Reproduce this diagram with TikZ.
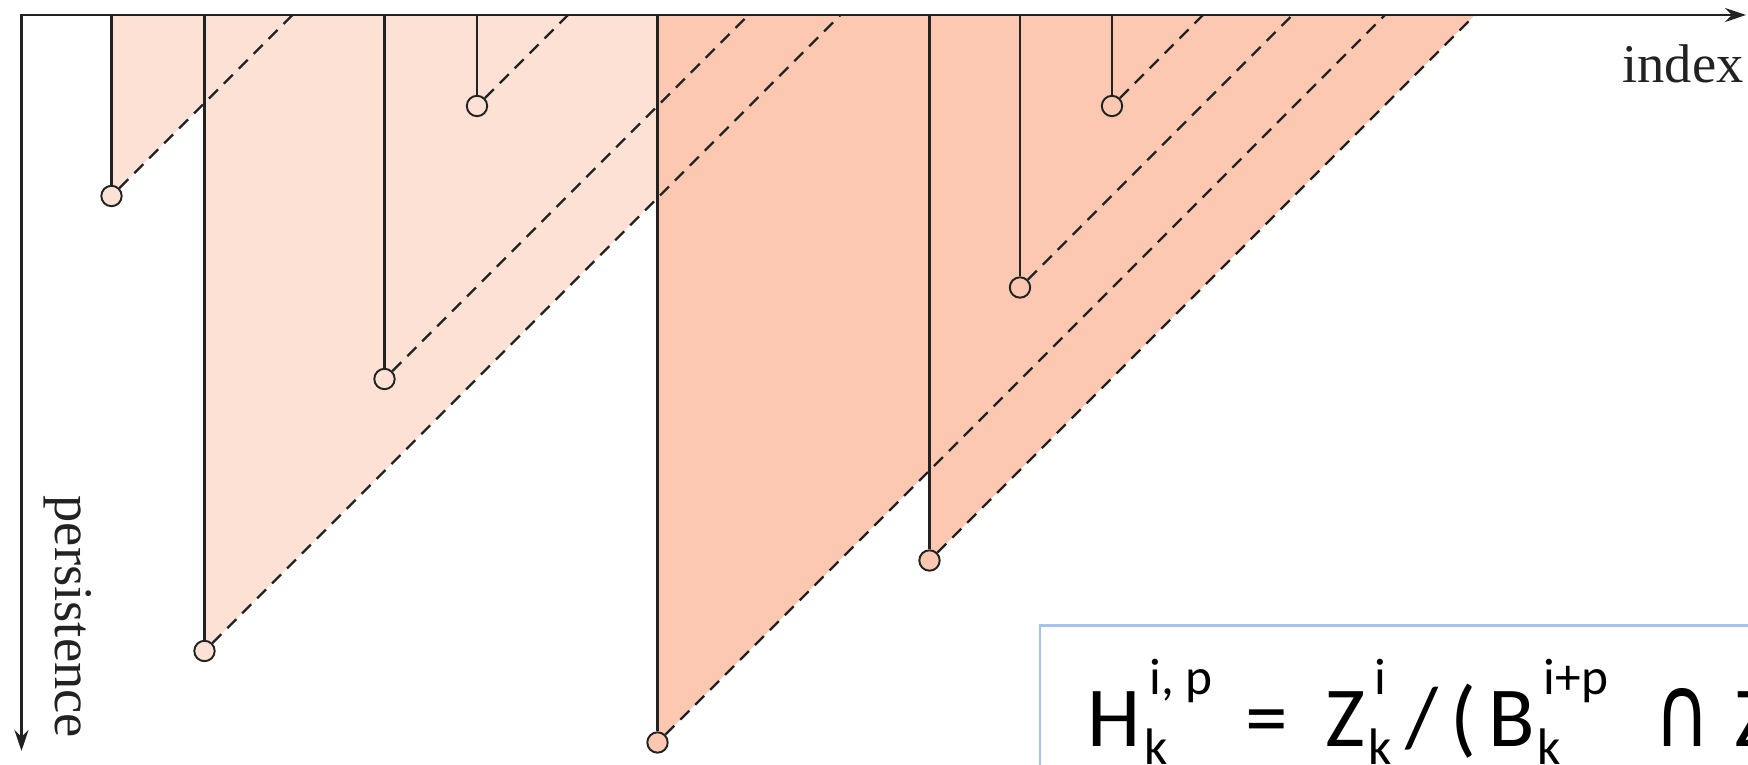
\documentclass[tikz,border=0pt]{standalone}
\usepackage{graphicx}
\usepackage{fontspec}
\setmainfont{Liberation Serif}
\newfontfamily\calib{Carlito}
\newfontfamily\djv{DejaVu Sans}
\usetikzlibrary{arrows.meta}
\definecolor{lightfill}{HTML}{FDE1D5}
\definecolor{darkfill}{HTML}{FCC8B1}
\definecolor{boxblue}{HTML}{A3C3EC}
\definecolor{ink}{HTML}{222222}
\begin{document}
\begin{tikzpicture}[x=0.01cm,y=-0.01cm,
  axisline/.style={line width=0.8pt, draw=ink},
  stemline/.style={line width=0.6pt, draw=ink},
  dashline/.style={line width=0.65pt, draw=ink, dash pattern=on 3.6pt off 2.4pt},
  lightdot/.style={circle, draw=ink, fill=lightfill, line width=0.55pt, minimum size=5.8pt, inner sep=0pt},
  darkdot/.style={circle, draw=ink, fill=darkfill, line width=0.55pt, minimum size=5.8pt, inner sep=0pt},
  bigtxt/.style={font=\calib\fontsize{24.3}{29}\selectfont, inner sep=0pt, anchor=base west},
  smalltxt/.style={font=\calib\fontsize{14.6}{17}\selectfont, inner sep=0pt, anchor=base west},
  symtxt/.style={font=\djv\fontsize{24}{29}\selectfont, inner sep=0pt, anchor=base},
  lab/.style={font=\fontsize{15.5}{18}\selectfont, inner sep=0pt, anchor=base west, text=ink}]
\useasboundingbox (0,0) rectangle (1748,765);
\clip (0,0) rectangle (1748,765);

% fills
\fill[lightfill] (111.5,15) -- (111.5,196) -- (204.5,103) -- (204.5,651) -- (840.5,15) -- cycle;
\fill[darkfill] (657.5,15) -- (657.5,742.5) -- (929.5,470.5) -- (929.5,560.5) -- (1475,15) -- cycle;

% bar tops and ends
\coordinate (t1) at (111.5,15);  \coordinate (e1) at (292.5,15);
\coordinate (t2) at (204.5,15);  \coordinate (e2) at (840.5,15);
\coordinate (t3) at (384.5,15);  \coordinate (e3) at (748.5,15);
\coordinate (t4) at (477,15);    \coordinate (e4) at (568,15);
\coordinate (t5) at (657.5,15);  \coordinate (e5) at (1385,15);
\coordinate (t6) at (929.5,15);  \coordinate (e6) at (1475,15);
\coordinate (t7) at (1020,15);   \coordinate (e7) at (1292.5,15);
\coordinate (t8) at (1112,15);   \coordinate (e8) at (1203,15);

% circles
\node[lightdot] (c1) at (111.5,196) {};
\node[lightdot] (c2) at (204.5,651) {};
\node[lightdot] (c3) at (384.5,379) {};
\node[lightdot] (c4) at (477,106) {};
\node[darkdot] (c5) at (657.5,742.5) {};
\node[darkdot] (c6) at (929.5,560.5) {};
\node[darkdot] (c7) at (1020,287.5) {};
\node[darkdot] (c8) at (1112,106) {};

\foreach \i in {1,...,8}{
  \draw[dashline] (c\i.north east) -- (e\i);
  \draw[stemline] (t\i) -- (c\i.north);
}

% axes
\coordinate (origin) at (21.5,15);
\coordinate (xend) at (1746,15);
\coordinate (yend) at (21.5,751);
\draw[axisline, {Stealth[length=6pt,width=4pt]}-{Stealth[length=6pt,width=4pt]}] (yend) -- (origin) -- (xend);

\node[lab] (idx) at (1621.7,82.7) {index};
\node[lab, rotate=-90] (pers) at (55,495) {persistence};

% formula box
\draw[boxblue, line width=0.6pt, fill=white] (1040,625.5) rectangle (1800,800);
\node[bigtxt] (f1) at (1087,747) {H};
\node[smalltxt] (f2) at (1149,695) {i, p};
\node[smalltxt] (f3) at (1144,765) {k};
\node[bigtxt] (f4) at (1244.5,747) {=};
\node[bigtxt] (f5) at (1325,747) {Z};
\node[smalltxt] (f6) at (1374,695) {i};
\node[smalltxt] (f7) at (1368,765) {k};
\node[bigtxt] (f8) at (1404.5,747) {/};
\node[bigtxt] (f9) at (1449.6,747) {(};
\node[bigtxt] (f10) at (1488,747) {B};
\node[smalltxt] (f11) at (1543,695) {i+p};
\node[smalltxt] (f12) at (1537,765) {k};
\node[symtxt] (f13) at (1682,747) {\resizebox{0.56cm}{0.58cm}{∩}};
\node[bigtxt] (f14) at (1734,747) {Z};
\end{tikzpicture}
\end{document}
